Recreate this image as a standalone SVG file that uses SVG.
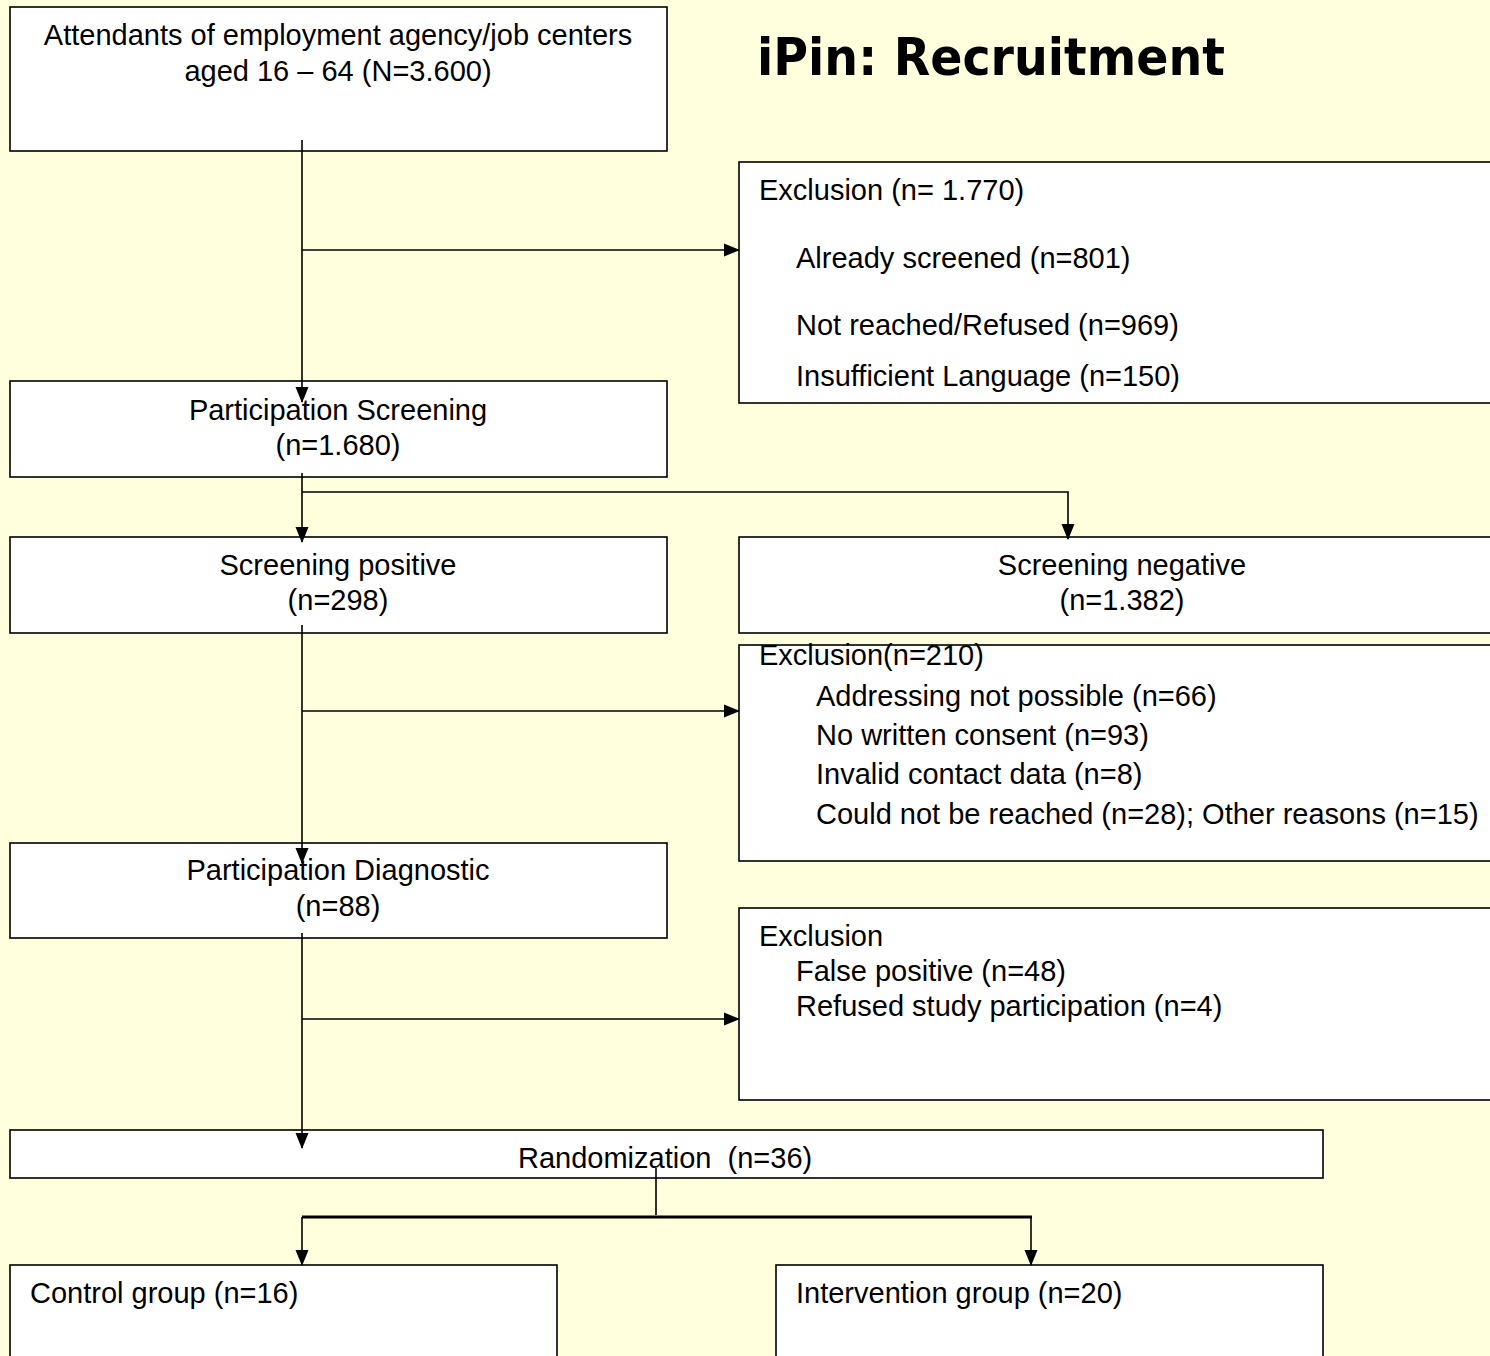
<svg xmlns="http://www.w3.org/2000/svg" width="1490" height="1356" viewBox="0 0 1490 1356">
<defs>
<marker id="ah" markerWidth="16" markerHeight="14" refX="15" refY="6.5" orient="auto" markerUnits="userSpaceOnUse" viewBox="0 0 16 13">
<path d="M0,0 L16,6.5 L0,13 z" fill="#000"/>
</marker>
<style>
.box{fill:#fff;stroke:#000;stroke-width:1.6}
.t{font-family:"Liberation Sans",Arial,sans-serif;font-size:29px;fill:#000}
.c{text-anchor:middle}
.ln{stroke:#000;stroke-width:1.6;fill:none}
</style>
</defs>
<rect width="1490" height="1356" fill="#FFFFDD"/>
<text x="757" y="75" font-family="'DejaVu Sans',Verdana,sans-serif" font-weight="bold" font-size="52" textLength="468" lengthAdjust="spacingAndGlyphs">iPin: Recruitment</text>

<g id="n1"><rect class="box" x="10" y="7" width="657" height="144"/>
<text class="t c" x="338" y="45">Attendants of employment agency/job centers</text>
<text class="t c" x="338" y="81">aged 16 – 64 (N=3.600)</text></g>

<g id="ex1"><rect class="box" x="739" y="162" width="760" height="241"/>
<text class="t" x="759" y="200">Exclusion (n= 1.770)</text>
<text class="t" x="796" y="268">Already screened (n=801)</text>
<text class="t" x="796" y="335">Not reached/Refused (n=969)</text>
<text class="t" x="796" y="386">Insufficient Language (n=150)</text></g>

<g id="n2"><rect class="box" x="10" y="381" width="657" height="96"/>
<text class="t c" x="338" y="420">Participation Screening</text>
<text class="t c" x="338" y="455">(n=1.680)</text></g>

<g id="n3"><rect class="box" x="10" y="537" width="657" height="96"/>
<text class="t c" x="338" y="575">Screening positive</text>
<text class="t c" x="338" y="610">(n=298)</text></g>

<g id="n4"><rect class="box" x="739" y="537" width="760" height="96"/>
<text class="t c" x="1122" y="575">Screening negative</text>
<text class="t c" x="1122" y="610">(n=1.382)</text></g>

<g id="ex2"><rect class="box" x="739" y="645" width="760" height="216"/>
<text class="t" x="759" y="665">Exclusion(n=210)</text>
<text class="t" x="816" y="706">Addressing not possible (n=66)</text>
<text class="t" x="816" y="745">No written consent (n=93)</text>
<text class="t" x="816" y="784">Invalid contact data (n=8)</text>
<text class="t" x="816" y="824">Could not be reached (n=28); Other reasons (n=15)</text></g>

<g id="n5"><rect class="box" x="10" y="843" width="657" height="95"/>
<text class="t c" x="338" y="880">Participation Diagnostic</text>
<text class="t c" x="338" y="916">(n=88)</text></g>

<g id="ex3"><rect class="box" x="739" y="908" width="760" height="192"/>
<text class="t" x="759" y="946">Exclusion</text>
<text class="t" x="796" y="981">False positive (n=48)</text>
<text class="t" x="796" y="1016">Refused study participation (n=4)</text></g>

<g id="n6"><rect class="box" x="10" y="1130" width="1313" height="48"/>
<text class="t" x="518" y="1168" xml:space="preserve">Randomization  (n=36)</text></g>

<g id="n7"><rect class="box" x="10" y="1265" width="547" height="100"/>
<text class="t" x="30" y="1303">Control group (n=16)</text></g>

<g id="n8"><rect class="box" x="776" y="1265" width="547" height="100"/>
<text class="t" x="796" y="1303">Intervention group (n=20)</text></g>

<g id="connectors">
<line class="ln" x1="302" y1="140" x2="302" y2="402" marker-end="url(#ah)"/>
<line class="ln" x1="302" y1="250" x2="739" y2="250" marker-end="url(#ah)"/>
<line class="ln" x1="302" y1="473" x2="302" y2="542" marker-end="url(#ah)"/>
<polyline class="ln" points="302,492 1068,492 1068,539" marker-end="url(#ah)"/>
<line class="ln" x1="302" y1="625" x2="302" y2="863" marker-end="url(#ah)"/>
<line class="ln" x1="302" y1="711" x2="739" y2="711" marker-end="url(#ah)"/>
<line class="ln" x1="302" y1="933" x2="302" y2="1148" marker-end="url(#ah)"/>
<line class="ln" x1="302" y1="1019" x2="739" y2="1019" marker-end="url(#ah)"/>
<line class="ln" x1="656" y1="1168" x2="656" y2="1215"/>
<line x1="302" y1="1217" x2="1032" y2="1217" stroke="#000" stroke-width="3"/>
<line class="ln" x1="302" y1="1217" x2="302" y2="1265" marker-end="url(#ah)"/>
<line class="ln" x1="1031" y1="1217" x2="1031" y2="1265" marker-end="url(#ah)"/>
</g>
</svg>
